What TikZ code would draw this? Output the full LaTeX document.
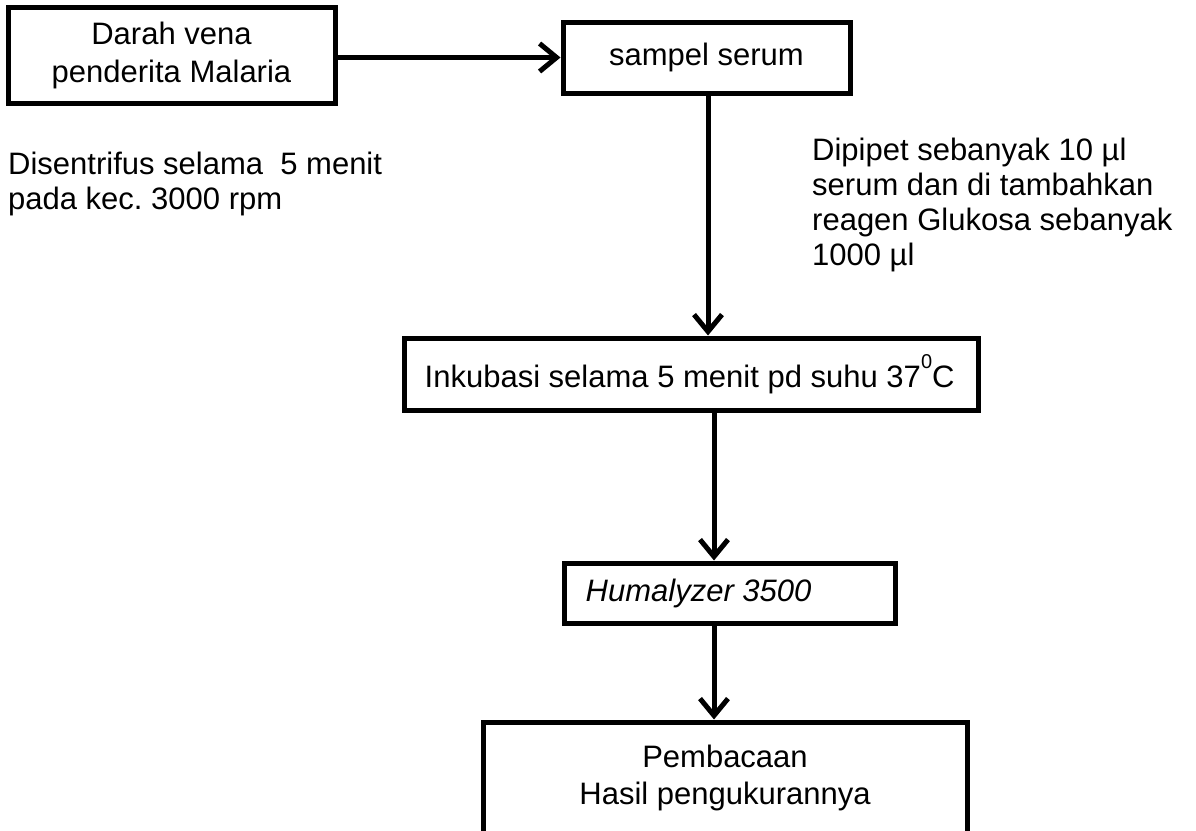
\documentclass[tikz,border=0pt]{standalone}
\usepackage{fontspec}
\setmainfont{Liberation Sans}
\usetikzlibrary{arrows.meta}
\frenchspacing
\tikzset{
  box/.style={draw, line width=5pt, rectangle, inner sep=0pt, align=center,
    font=\fontsize{31}{38}\selectfont},
  lbl/.style={inner sep=0pt, align=left, font=\fontsize{31}{35}\selectfont},
  arr/.style={line width=5pt, -{Straight Barb[length=17pt, width=28pt, line width=5pt]}},
}
\begin{document}
\begin{tikzpicture}[x=1pt, y=-1pt]
\useasboundingbox (0,0) rectangle (1196,830);
\clip (0,0) rectangle (1196,830);
% boxes
\node[box, minimum width=327pt, minimum height=96pt] (b1) at (171.5,55) {Darah vena\\penderita Malaria};
\node[box, minimum width=287pt, minimum height=71pt] (b2) at (706.5,57.5) {sampel serum};
\node[box, minimum width=574pt, minimum height=72pt] (b3) at (691,374) {};
\node[lbl, anchor=west] (t3) at (b3.west) [xshift=23pt] {Inkubasi selama 5 menit pd suhu 37\raisebox{19pt}{\fontsize{20}{20}\selectfont 0}C};
\node[box, minimum width=331pt, minimum height=60pt] (b4) at (729.5,593) {};
\node[lbl, anchor=west, font=\fontsize{31}{35}\selectfont\itshape] (t4) at (b4.west) [xshift=24pt] {Humalyzer 3500};
\node[box, minimum width=484pt, minimum height=130pt] (b5) at (725,787) {};
\node[lbl, anchor=north, align=center, font=\fontsize{31}{37}\selectfont] (t5) at ([yshift=-25pt]b5.north) {Pembacaan\\Hasil pengukurannya};
% side labels
\node[lbl, anchor=north west] (l1) at (8,152) {Disentrifus selama~ 5 menit\\pada kec. 3000 rpm};
\node[lbl, anchor=north west] (l2) at (812,138) {Dipipet sebanyak 10 µl\\serum dan di tambahkan\\reagen Glukosa sebanyak\\1000 µl};
% connectors
\coordinate (cxa) at (708,0);
\coordinate (cxb) at (714,0);
\draw[arr] (b1.east |- b2.west) -- (b2.west);
\draw[arr] (cxa |- b2.south) -- (cxa |- b3.north);
\draw[arr] (cxb |- b3.south) -- (cxb |- b4.north);
\draw[arr] (cxb |- b4.south) -- (cxb |- b5.north);
\end{tikzpicture}
\end{document}
